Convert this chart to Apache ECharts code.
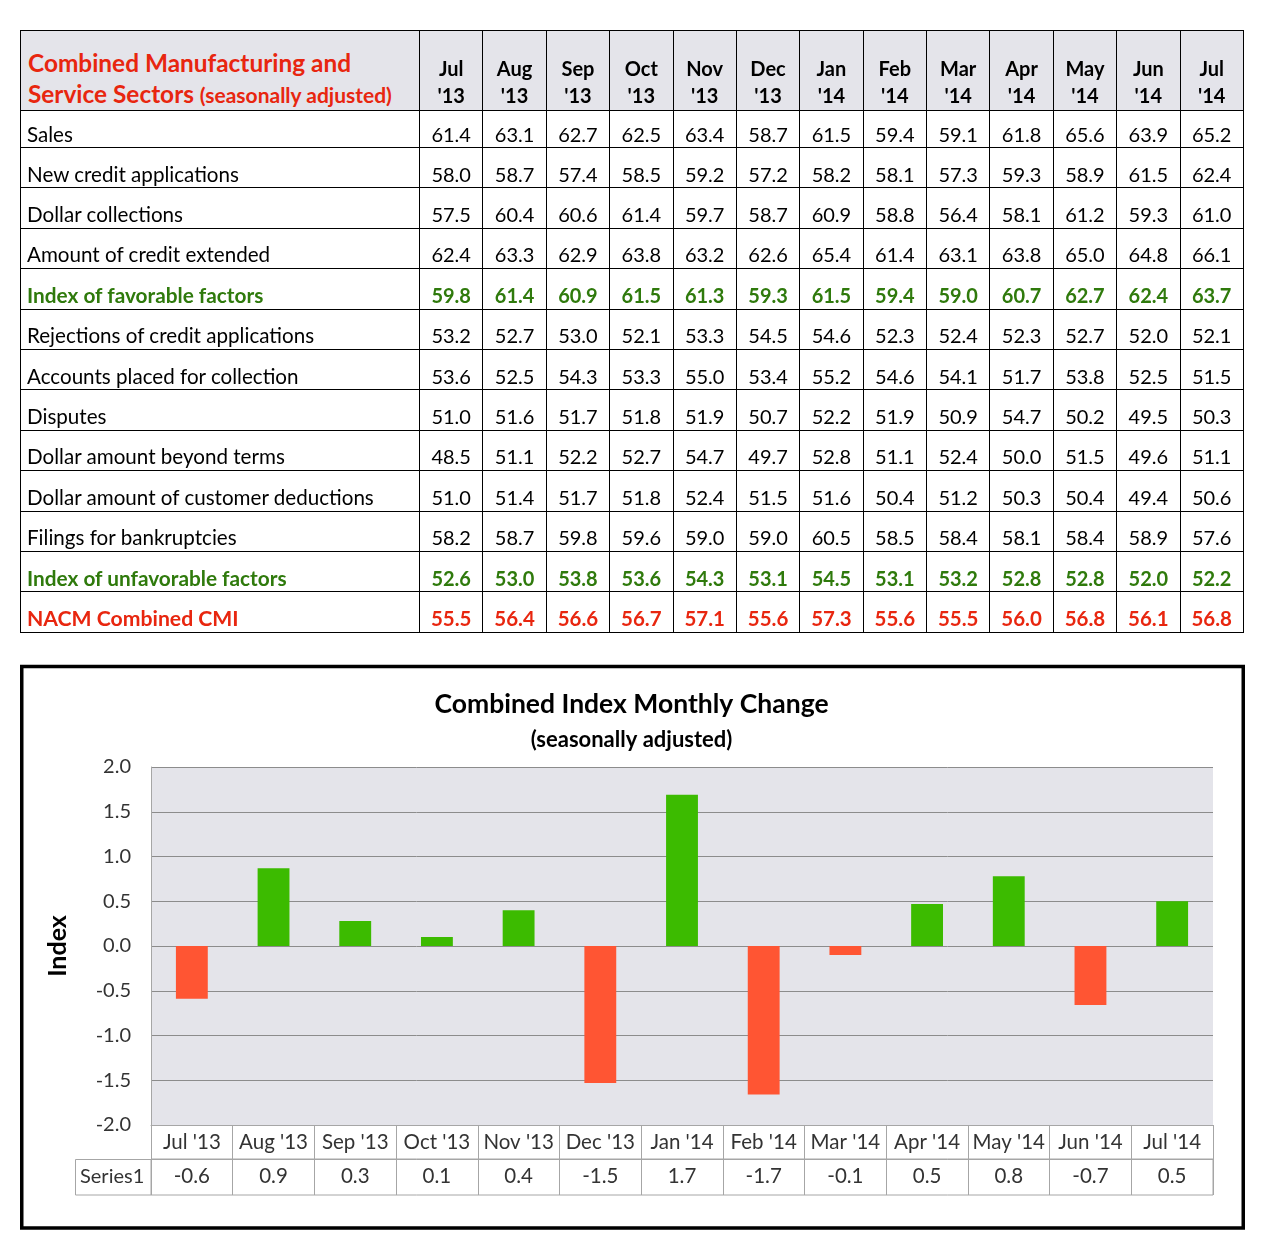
<!DOCTYPE html>
<html><head><meta charset="utf-8">
<script src="https://cdn.jsdelivr.net/npm/echarts@6/dist/echarts.min.js"></script>
<style>
html,body{margin:0;padding:0;background:#fff;width:1263px;height:1257px;overflow:hidden;}
#chart{position:absolute;left:0;top:0;width:1263px;height:1257px;}
#tbl{position:absolute;left:20px;top:30px;border-collapse:collapse;table-layout:fixed;font-family:Lato,sans-serif;width:1223px;color:#000;}
#tbl td,#tbl th{border:1px solid #000;padding:0;overflow:hidden;white-space:nowrap;}
#tbl thead th{background:#e4e4ea;height:80px;font-weight:bold;font-size:20px;line-height:27px;padding-top:22px;box-sizing:border-box;vertical-align:middle;text-align:center;}
#tbl thead th.title{text-align:left;padding-left:7px;padding-top:16px;color:#e8260f;font-size:24.4px;line-height:31px;}
#tbl thead th.title span{font-size:21px;}
#tbl tbody td{height:40.4px;font-size:20px;padding-top:12px;box-sizing:border-box;text-align:center;vertical-align:middle;}
#tbl tbody tr.first td{height:37px;padding-top:10px;}
#tbl tbody td.lab{text-align:left;padding-left:6px;font-size:20.6px;}
#tbl tbody tr.green td{color:#2f7a0c;font-weight:bold;}
#tbl tbody tr.green td.lab{font-size:20.8px;}
#tbl tbody tr.red td{color:#e8260f;font-weight:bold;font-size:20.5px;}
#tbl tbody tr.red td.lab{font-size:21.2px;}
</style>
</head><body>
<div id="chart"></div>
<table id="tbl"><colgroup id="cg"></colgroup><thead><tr id="hr"></tr></thead><tbody id="tb"></tbody></table>
<script>
// ---- data ----
const months = ["Jul '13","Aug '13","Sep '13","Oct '13","Nov '13","Dec '13","Jan '14","Feb '14","Mar '14","Apr '14","May '14","Jun '14","Jul '14"];
const rowLabels = ["Sales","New credit applications","Dollar collections","Amount of credit extended","Index of favorable factors","Rejections of credit applications","Accounts placed for collection","Disputes","Dollar amount beyond terms","Dollar amount of customer deductions","Filings for bankruptcies","Index of unfavorable factors","NACM Combined CMI"];
const sales = [61.4,63.1,62.7,62.5,63.4,58.7,61.5,59.4,59.1,61.8,65.6,63.9,65.2];
const newCredit = [58.0,58.7,57.4,58.5,59.2,57.2,58.2,58.1,57.3,59.3,58.9,61.5,62.4];
const dollarCollections = [57.5,60.4,60.6,61.4,59.7,58.7,60.9,58.8,56.4,58.1,61.2,59.3,61.0];
const creditExtended = [62.4,63.3,62.9,63.8,63.2,62.6,65.4,61.4,63.1,63.8,65.0,64.8,66.1];
const favorableIndex = [59.8,61.4,60.9,61.5,61.3,59.3,61.5,59.4,59.0,60.7,62.7,62.4,63.7];
const rejections = [53.2,52.7,53.0,52.1,53.3,54.5,54.6,52.3,52.4,52.3,52.7,52.0,52.1];
const accountsCollection = [53.6,52.5,54.3,53.3,55.0,53.4,55.2,54.6,54.1,51.7,53.8,52.5,51.5];
const disputes = [51.0,51.6,51.7,51.8,51.9,50.7,52.2,51.9,50.9,54.7,50.2,49.5,50.3];
const beyondTerms = [48.5,51.1,52.2,52.7,54.7,49.7,52.8,51.1,52.4,50.0,51.5,49.6,51.1];
const deductions = [51.0,51.4,51.7,51.8,52.4,51.5,51.6,50.4,51.2,50.3,50.4,49.4,50.6];
const bankruptcies = [58.2,58.7,59.8,59.6,59.0,59.0,60.5,58.5,58.4,58.1,58.4,58.9,57.6];
const unfavorableIndex = [52.6,53.0,53.8,53.6,54.3,53.1,54.5,53.1,53.2,52.8,52.8,52.0,52.2];
const combinedCMI = [55.5,56.4,56.6,56.7,57.1,55.6,57.3,55.6,55.5,56.0,56.8,56.1,56.8];
const monthlyChange = [-0.59,0.87,0.28,0.10,0.40,-1.53,1.69,-1.66,-0.10,0.47,0.78,-0.66,0.50];
const yTicks = [-2.0,-1.5,-1.0,-0.5,0.0,0.5,1.0,1.5,2.0];

// ---- table ----
const rows = [sales,newCredit,dollarCollections,creditExtended,favorableIndex,rejections,accountsCollection,disputes,beyondTerms,deductions,bankruptcies,unfavorableIndex,combinedCMI];
const rowClass = ['first','','','','green','','','','','','','green','red'];
const cg = document.getElementById('cg');
let c = document.createElement('col'); c.style.width='399px'; cg.appendChild(c);
months.forEach(()=>{const k=document.createElement('col'); k.style.width=((1223-399)/13)+'px'; cg.appendChild(k);});
const hr = document.getElementById('hr');
let th = document.createElement('th'); th.className='title';
th.innerHTML = 'Combined Manufacturing and<br>Service Sectors <span>(seasonally adjusted)</span>';
hr.appendChild(th);
months.forEach(m=>{const p=m.split(' ');const h=document.createElement('th');h.innerHTML=p[0]+'<br>'+p[1];hr.appendChild(h);});
const tb = document.getElementById('tb');
rows.forEach((r,i)=>{
  const tr=document.createElement('tr'); tr.className=rowClass[i];
  const l=document.createElement('td'); l.className='lab'; l.textContent=rowLabels[i]; tr.appendChild(l);
  r.forEach(v=>{const d=document.createElement('td'); d.textContent=v.toFixed(1); tr.appendChild(d);});
  tb.appendChild(tr);
});

// ---- chart ----
const FONT = 'Lato, sans-serif';
const gray = '#a6a6a6';
const chart = echarts.init(document.getElementById('chart'));
chart.setOption({
  animation:false,
  textStyle:{fontFamily:FONT},
  title:{text:'Combined Index Monthly Change', subtext:'(seasonally adjusted)', left:'center', top:686, itemGap:11,
    textStyle:{fontFamily:FONT,fontSize:26.5,fontWeight:'bold',color:'#000'},
    subtextStyle:{fontFamily:FONT,fontSize:22,fontWeight:'bold',color:'#000'}},
  grid:[
    {left:151, top:767, width:1062, height:358, show:true, backgroundColor:'#e4e4ea', borderWidth:0},
    {left:151, top:1159, width:1062, height:36, show:true, backgroundColor:'#fff', borderColor:gray, borderWidth:1}
  ],
  xAxis:[
    {type:'category', gridIndex:0, data:months, position:'bottom',
      axisLine:{onZero:false, lineStyle:{color:gray}},
      axisTick:{show:true, length:34, lineStyle:{color:gray}},
      axisLabel:{interval:0, fontSize:20.5, color:'#333', margin:7, fontFamily:FONT}},
    {type:'category', gridIndex:1, data:monthlyChange.map(v=>v.toFixed(1)), position:'top',
      axisLine:{show:true, onZero:false, lineStyle:{color:gray}},
      axisTick:{show:true, inside:true, length:36, lineStyle:{color:gray}},
      axisLabel:{interval:0, inside:true, fontSize:20.5, color:'#333', margin:7, fontFamily:FONT}}
  ],
  yAxis:[
    {type:'value', gridIndex:0, min:yTicks[0], max:yTicks[yTicks.length-1], interval:0.5,
      name:'Index', nameLocation:'middle', nameGap:81,
      nameTextStyle:{fontSize:25, fontWeight:'bold', color:'#000', fontFamily:FONT},
      axisLine:{show:true, lineStyle:{color:gray}}, axisTick:{show:false},
      axisLabel:{formatter:v=>v.toFixed(1), fontSize:20, color:'#333', margin:20, fontFamily:FONT},
      splitLine:{lineStyle:{color:'#8c8c8c'}}},
    {type:'value', gridIndex:1, show:false, min:0, max:1}
  ],
  series:[{type:'bar', xAxisIndex:0, yAxisIndex:0, barWidth:'39%',
    data:monthlyChange.map(v=>({value:v, itemStyle:{color: v>=0 ? '#3cbb00' : '#ff5533'}}))}],
  graphic:[
    {type:'rect', shape:{x:21.75, y:666.5, width:1221.5, height:561.5}, style:{fill:'none', stroke:'#000', lineWidth:3.5}, z:10},
    {type:'rect', shape:{x:75.5, y:1159.5, width:75.5, height:35.5}, style:{fill:'#fff', stroke:gray, lineWidth:1}},
    {type:'text', x:80, y:1177, style:{text:'Series1', fontSize:20, fontFamily:FONT, fill:'#333', verticalAlign:'middle'}}
  ]
});
</script>
</body></html>
